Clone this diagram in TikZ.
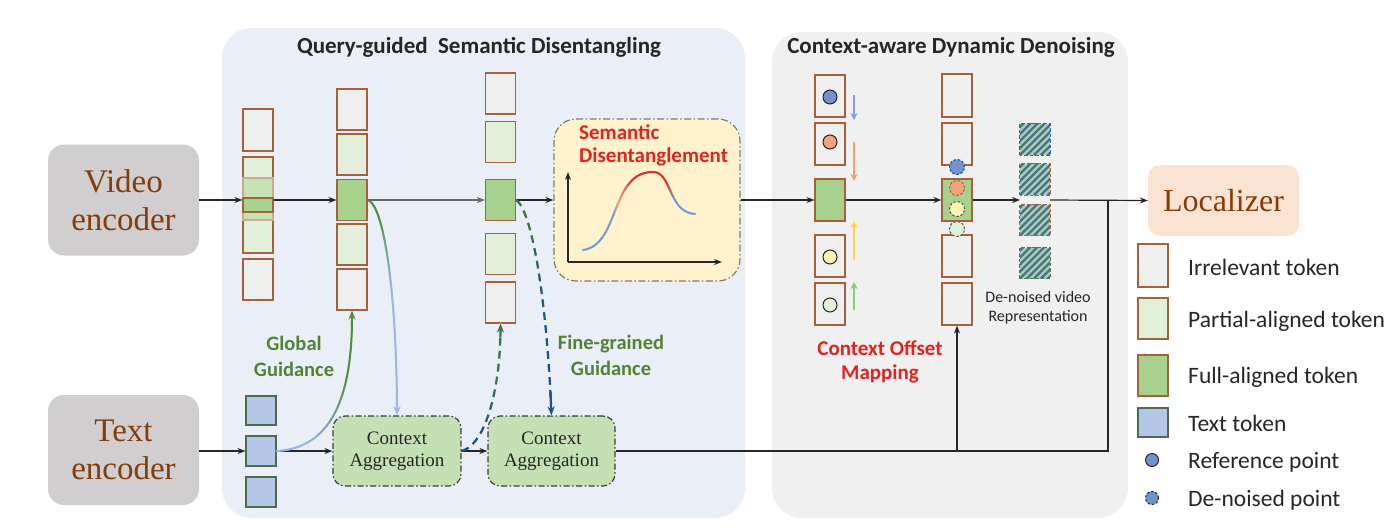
\documentclass[tikz,border=0pt]{standalone}
\usepackage{fontspec}
\setmainfont{Carlito}
\newfontfamily\camb{Liberation Serif}
\usetikzlibrary{arrows.meta,calc}
\definecolor{brd}{HTML}{A5603C}
\definecolor{irr}{HTML}{EFEFEF}
\definecolor{par}{HTML}{E2F0D9}
\definecolor{mid}{HTML}{C6E1B2}
\definecolor{ful}{HTML}{A9D18E}
\definecolor{txtok}{HTML}{B4C7E7}
\definecolor{txbrd}{HTML}{4D6B4D}
\definecolor{pan1}{HTML}{E9EEF7}
\definecolor{pan2}{HTML}{F0F0F0}
\definecolor{encg}{HTML}{D0CECE}
\definecolor{encbrown}{HTML}{843C0C}
\definecolor{locf}{HTML}{FBE3D3}
\definecolor{redt}{HTML}{E42320}
\definecolor{greent}{HTML}{548235}
\definecolor{caf}{HTML}{C5E0B4}
\definecolor{sdf}{HTML}{FFF2CC}
\definecolor{sdbrd}{HTML}{7F7F62}
\definecolor{lblue}{HTML}{9CB5E2}
\definecolor{ggreen}{HTML}{4F8F3F}
\definecolor{dblue}{HTML}{1F4E8C}
\definecolor{dgreen}{HTML}{3A7445}
\definecolor{ptblue}{HTML}{7092D0}
\definecolor{ptorange}{HTML}{F4A27A}
\definecolor{ptyellow}{HTML}{FFF2B3}
\definecolor{ptgreen}{HTML}{E2F0D9}
\definecolor{arblue}{HTML}{7FA0D8}
\definecolor{arorange}{HTML}{F4A070}
\definecolor{aryellow}{HTML}{FFD34A}
\definecolor{argreen}{HTML}{8CC97A}
\definecolor{hatchbg}{HTML}{A7C5E5}
\definecolor{hatchln}{HTML}{4C7A55}
\definecolor{hblue}{HTML}{2E64A8}
\definecolor{sdblue}{HTML}{6FA0D2}
\definecolor{sdorange}{HTML}{F2A27A}
\definecolor{sdred}{HTML}{E0302A}
\definecolor{ink}{HTML}{262626}

\tikzset{
  declare function={bzf(\pp,\qa,\qb,\qc,\qd)=(1-\pp)^3*\qa+3*(1-\pp)^2*\pp*\qb+3*(1-\pp)*\pp^2*\qc+\pp^3*\qd;},
  tok/.style={draw=brd, line width=1.1pt, minimum width=30pt, minimum height=41pt, inner sep=0pt},
  irrtok/.style={tok, fill=irr},
  partok/.style={tok, fill=par},
  fultok/.style={tok, fill=ful},
  txttok/.style={draw=txbrd, fill=txtok, line width=1.1pt, minimum width=30pt, minimum height=30pt, inner sep=0pt},
  panelbox/.style={rounded corners=30pt, inner sep=0pt},
  encbox/.style={fill=encg, rounded corners=16pt, minimum width=151pt, text=encbrown, align=center, inner sep=0pt, font=\camb\fontsize{33}{38}\selectfont},
  cabox/.style={fill=caf, draw=ink!90, line width=1.2pt, dash pattern=on 6pt off 2.5pt on 1.5pt off 2.5pt, rounded corners=12pt, minimum height=70pt, inner sep=0pt, align=center, text=ink, font=\camb\fontsize{19}{22}\selectfont},
  flow/.style={draw=ink, line width=1.2pt, -{Stealth[length=8pt,width=6pt]}},
  wire/.style={draw=ink, line width=1.2pt},
  refpt/.style={circle, draw=ink, line width=1pt, minimum size=14pt, inner sep=0pt},
  dnpt/.style={circle, draw=ink, line width=1pt, dash pattern=on 2.5pt off 1.8pt, minimum size=15pt, inner sep=0pt},
  sidearr/.style={line width=2.4pt, -{Stealth[length=7pt,width=7pt]}},
  titletxt/.style={font=\bfseries\fontsize{23}{27}\selectfont, text=ink},
  redlbl/.style={font=\bfseries\fontsize{21}{24}\selectfont, text=redt, align=center},
  greenlbl/.style={font=\bfseries\fontsize{20.5}{26}\selectfont, text=greent, align=center},
  legtxt/.style={font=\fontsize{23.5}{26}\selectfont, text=ink, anchor=west, inner sep=0pt},
  hatchsq/.style={fill=hatchbg, minimum width=30pt, minimum height=31pt, inner sep=0pt},
}

\newcommand\setbez[4]{%
  \path #1 coordinate (gbA) #2 coordinate (gbB) #3 coordinate (gbC) #4 coordinate (gbD);%
  \pgfpointanchor{gbA}{center}\pgfgetlastxy{\gax}{\gay}%
  \pgfpointanchor{gbB}{center}\pgfgetlastxy{\gbx}{\gby}%
  \pgfpointanchor{gbC}{center}\pgfgetlastxy{\gcx}{\gcy}%
  \pgfpointanchor{gbD}{center}\pgfgetlastxy{\gdx}{\gdy}%
  \pgfmathsetmacro\gax{\gax}\pgfmathsetmacro\gay{\gay}%
  \pgfmathsetmacro\gbx{\gbx}\pgfmathsetmacro\gby{\gby}%
  \pgfmathsetmacro\gcx{\gcx}\pgfmathsetmacro\gcy{\gcy}%
  \pgfmathsetmacro\gdx{\gdx}\pgfmathsetmacro\gdy{\gdy}%
}
\newcommand\gradseg[5]{%
  \foreach \gi in {0,...,19}{%
    \pgfmathsetmacro\gta{#1+(#2-#1)*\gi/20}%
    \pgfmathsetmacro\gtb{#1+(#2-#1)*(\gi+1)/20}%
    \pgfmathtruncatemacro\gpc{100-100*(\gi+0.5)/20}%
    \draw[line width=#5, line cap=round, #3!\gpc!#4] plot[domain=\gta:\gtb, samples=3, variable=\pp] ({bzf(\pp,\gax,\gbx,\gcx,\gdx)*1pt},{bzf(\pp,\gay,\gby,\gcy,\gdy)*1pt});
  }}
\newcommand\bezarrow[2]{%
  \draw[line width=#2, #1, -{Stealth[length=9pt,width=7pt]}] plot[domain=0.93:1, samples=4, variable=\pp] ({bzf(\pp,\gax,\gbx,\gcx,\gdx)*1pt},{bzf(\pp,\gay,\gby,\gcy,\gdy)*1pt});}
\newcommand\bezdash[1]{%
  \draw[#1, line width=3.2pt, dash pattern=on 5pt off 8pt, dash phase=5pt] (gbA) .. controls (gbB) and (gbC) .. (gbD);}
\newcommand\hatchbox[4]{%
  \node[hatchsq] (#1) at (#2,#3) {};
  \begin{scope}
    \clip (#1.south west) rectangle (#1.north east);
    \foreach \hk in {-42,-35,...,35} \draw[hatchln, line width=2.4pt] ($(#1.south west)+(\hk,0)$) -- ++(42,-42);
  \end{scope}
  \draw[#4, line width=1.2pt, dash pattern=on 3.5pt off 2pt] (#1.south west) rectangle (#1.north east);}

\begin{document}
\begin{tikzpicture}[x=1pt,y=-1pt]
\useasboundingbox (0,0) rectangle (1400,528);
\fill[white] (0,0) rectangle (1400,528);

% panels
\node[panelbox, fill=pan1, minimum width=523pt, minimum height=490pt] (p1) at (483.5,273) {};
\node[panelbox, fill=pan2, minimum width=356pt, minimum height=486pt] (p2) at (950,275) {};
\node[titletxt] (t1) at (479,47) {Query-guided~~Semantic Disentangling};
\node[titletxt] (t2) at (951,47) {Context-aware Dynamic Denoising};

% encoders
\node[encbox, minimum height=111pt] (ve) at (123.5,200) {Video\\encoder};
\node[encbox, minimum height=110pt] (te) at (123.5,450) {Text\\encoder};

% column 1
\node[irrtok, minimum height=42pt] (c1a) at (258,130) {};
\node[partok, minimum height=96pt] (c1m) at (258,205) {};
\node[tok, fill=mid, draw=brd!55, minimum height=42pt] (c1n) at (258,199) {};
\node[fultok, minimum height=14pt] (c1f) at (258,205) {};
\node[irrtok] (c1b) at (258,279.5) {};

% column 2
\node[irrtok] (c2a) at (352,109.5) {};
\node[partok] (c2b) at (352,154.5) {};
\node[fultok] (c2c) at (352,200) {};
\node[partok] (c2d) at (352,244.5) {};
\node[irrtok] (c2e) at (352,289.5) {};

% column 3
\node[irrtok] (c3a) at (500.5,93.5) {};
\node[partok] (c3b) at (500.5,142) {};
\node[fultok] (c3c) at (500.5,200) {};
\node[partok] (c3d) at (500.5,254) {};
\node[irrtok] (c3e) at (500.5,302.5) {};

% semantic disentanglement box
\node[fill=sdf, draw=sdbrd, line width=1.2pt, dash pattern=on 7pt off 2.5pt on 1.5pt off 2.5pt, rounded corners=22pt, minimum width=186pt, minimum height=162pt, inner sep=0pt] (sd) at (647,200) {};
\node[redlbl, anchor=west, inner sep=0pt] (sdt1) at (579,132) {Semantic};
\node[redlbl, anchor=west, inner sep=0pt] (sdt2) at (579,157) {Disentanglement};
\coordinate (ax0) at (568,262);
\coordinate (axy) at (568,172);
\coordinate (axx) at (722,262);
\draw[ink, line width=1.8pt, -{Stealth[length=8pt,width=6pt]}] (ax0) -- (axy);
\draw[ink, line width=1.8pt, -{Stealth[length=8pt,width=6pt]}] (ax0) -- (axx);
\setbez{(583,250)}{(620,245)}{(610,172)}{(653,172)}
\gradseg{0}{0.42}{sdblue}{sdblue}{2pt}
\gradseg{0.42}{0.58}{sdblue}{sdorange}{2pt}
\gradseg{0.58}{0.8}{sdorange}{sdred}{2pt}
\gradseg{0.8}{1}{sdred}{sdred}{2pt}
\setbez{(653,172)}{(672,172)}{(668,212)}{(695,214)}
\gradseg{0}{0.35}{sdred}{sdred}{2pt}
\gradseg{0.35}{0.62}{sdred}{sdblue}{2pt}
\gradseg{0.62}{1}{sdblue}{sdblue}{2pt}

% column 4
\node[irrtok, minimum height=42pt] (c4a) at (830,96) {};
\node[irrtok, minimum height=42pt] (c4b) at (830,144) {};
\node[fultok, minimum height=42pt] (c4c) at (830,200) {};
\node[irrtok, minimum height=42pt] (c4d) at (830,256) {};
\node[irrtok, minimum height=42pt] (c4e) at (830,304) {};
\node[refpt, fill=ptblue] (q1) at (830,97) {};
\node[refpt, fill=ptorange] (q2) at (830,142) {};
\node[refpt, fill=ptyellow] (q3) at (830,257) {};
\node[refpt, fill=ptgreen] (q4) at (830,305) {};
\coordinate (ba0) at (854,95); \coordinate (ba1) at (854,120);
\coordinate (bb0) at (854,142); \coordinate (bb1) at (854,181);
\coordinate (bc0) at (854,260); \coordinate (bc1) at (854,221);
\coordinate (bd0) at (854,310); \coordinate (bd1) at (854,282);
\draw[sidearr, arblue] (ba0) -- (ba1);
\draw[sidearr, arorange] (bb0) -- (bb1);
\draw[sidearr, aryellow] (bc0) -- (bc1);
\draw[sidearr, argreen] (bd0) -- (bd1);

% column 5
\node[irrtok, minimum height=43pt] (c5a) at (957,95.5) {};
\node[irrtok, minimum height=42pt] (c5b) at (957,144) {};
\node[fultok, minimum height=42pt] (c5c) at (957,200) {};
\node[irrtok, minimum height=42pt] (c5d) at (957,256) {};
\node[irrtok, minimum height=42pt] (c5e) at (957,304) {};
\node[dnpt, fill=ptblue, draw=dblue] (r1) at (957,167) {};
\node[dnpt, fill=ptorange, draw=brd] (r2) at (957,188) {};
\node[dnpt, fill=ptyellow, draw=ink!80] (r3) at (957,209) {};
\node[dnpt, fill=ptgreen, draw=ink!80] (r4) at (957,229) {};

% hatched de-noised tokens
\hatchbox{h1}{1035}{139.5}{hblue}
\hatchbox{h2}{1035}{179.5}{brd}
\hatchbox{h3}{1035}{220}{brd}
\hatchbox{h4}{1035}{263}{hatchln}
\node[font=\fontsize{16}{19.5}\selectfont, text=ink, align=center] (dnv) at (1038,307.5) {De-noised video\\Representation};
\node[redlbl] (com) at (880,362) {Context Offset\\Mapping};

% localizer
\node[fill=locf, rounded corners=12pt, minimum width=151pt, minimum height=71pt, inner sep=0pt, text=encbrown, font=\camb\fontsize{32}{36}\selectfont] (loc) at (1223.5,200.5) {Localizer};

% text tokens
\node[txttok, minimum height=29pt] (tt1) at (261,410.5) {};
\node[txttok] (tt2) at (261,451) {};
\node[txttok] (tt3) at (261,492) {};

% context aggregation
\node[cabox, minimum width=128pt] (ca1) at (397,451) {Context\\Aggregation};
\node[cabox, minimum width=127pt] (ca2) at (551.5,451) {Context\\Aggregation};

% main video flow
\draw[flow] (ve.east |- c1f.west) ++(0,-5) coordinate (vs) -- (vs -| c1m.west);
\draw[flow] (c1m.east |- c2c.west) -- (c2c.west);
\draw[flow, draw=ink!70] (c2c.east) -- (c3c.west);
\draw[flow] (c3c.east) -- (c3c.east -| sd.west);
\draw[flow] (sd.east) -- (c4c.west);
\draw[flow] (c4c.east) -- (c5c.west);
\coordinate (hin) at (1020,200);
\coordinate (hout) at (1050,200);
\draw[flow] (c5c.east) -- (hin);
\draw[flow] (hout) -- (loc.west);

% text flow
\draw[flow] (te.east |- tt2.west) -- (tt2.west);
\draw[flow] (tt2.east) -- (ca1.west);
\draw[flow] (ca1.east) -- (ca2.west);
\coordinate (jr) at (1108,451);
\coordinate (jt) at (1108,200);
\coordinate (jb) at (957,451);
\draw[wire] (ca2.east) -- (jr) -- (jt);
\draw[flow] (jb) -- (c5e.south);

% guidance curves
\setbez{(tt2.east)}{(335,448)}{(353,390)}{(c2e.south)}
\gradseg{0}{0.2}{lblue}{lblue}{2pt}
\gradseg{0.2}{0.7}{lblue}{ggreen}{2pt}
\gradseg{0.7}{0.95}{ggreen}{ggreen}{2pt}
\bezarrow{ggreen}{2pt}

\setbez{(c2c.east)}{(385,205)}{(397,300)}{(ca1.north)}
\gradseg{0}{0.25}{ggreen}{ggreen}{2pt}
\gradseg{0.25}{0.6}{ggreen}{lblue}{2pt}
\gradseg{0.6}{0.95}{lblue}{lblue}{2pt}
\bezarrow{lblue}{2pt}

\setbez{(ca1.east)}{(485,445)}{(501,390)}{(c3e.south)}
\gradseg{0}{0.25}{dblue}{dblue}{2.2pt}
\gradseg{0.25}{0.7}{dblue}{dgreen}{2.2pt}
\gradseg{0.7}{0.95}{dgreen}{dgreen}{2.2pt}
\bezdash{pan1}
\bezarrow{dgreen}{2.2pt}

\setbez{(c3c.east)}{(532,210)}{(547,300)}{(ca2.north)}
\gradseg{0}{0.3}{dgreen}{dgreen}{2.2pt}
\gradseg{0.3}{0.75}{dgreen}{dblue}{2.2pt}
\gradseg{0.75}{0.95}{dblue}{dblue}{2.2pt}
\bezdash{pan1}
\bezarrow{dblue}{2.2pt}

\node[greenlbl] (gg) at (294,356) {Global\\Guidance};
\node[greenlbl] (fg) at (611,355.5) {Fine-grained\\Guidance};

% legend
\node[irrtok, minimum height=43pt] (l1) at (1153,265.5) {};
\node[partok, minimum height=41pt] (l2) at (1153,318.5) {};
\node[fultok, minimum height=41pt] (l3) at (1153,375.5) {};
\node[txttok, minimum height=29pt] (l4) at (1153,422.5) {};
\node[refpt, fill=ptblue, minimum size=13pt] (l5) at (1152,460) {};
\node[dnpt, fill=ptblue, minimum size=13pt] (l6) at (1152,498) {};
\node[legtxt] (lt1) at (1188,267) {Irrelevant token};
\node[legtxt] (lt2) at (1188,321) {Partial-aligned token};
\node[legtxt] (lt3) at (1188,377) {Full-aligned token};
\node[legtxt] (lt4) at (1188,423) {Text token};
\node[legtxt] (lt5) at (1188,462) {Reference point};
\node[legtxt] (lt6) at (1188,500) {De-noised point};
\end{tikzpicture}
\end{document}
